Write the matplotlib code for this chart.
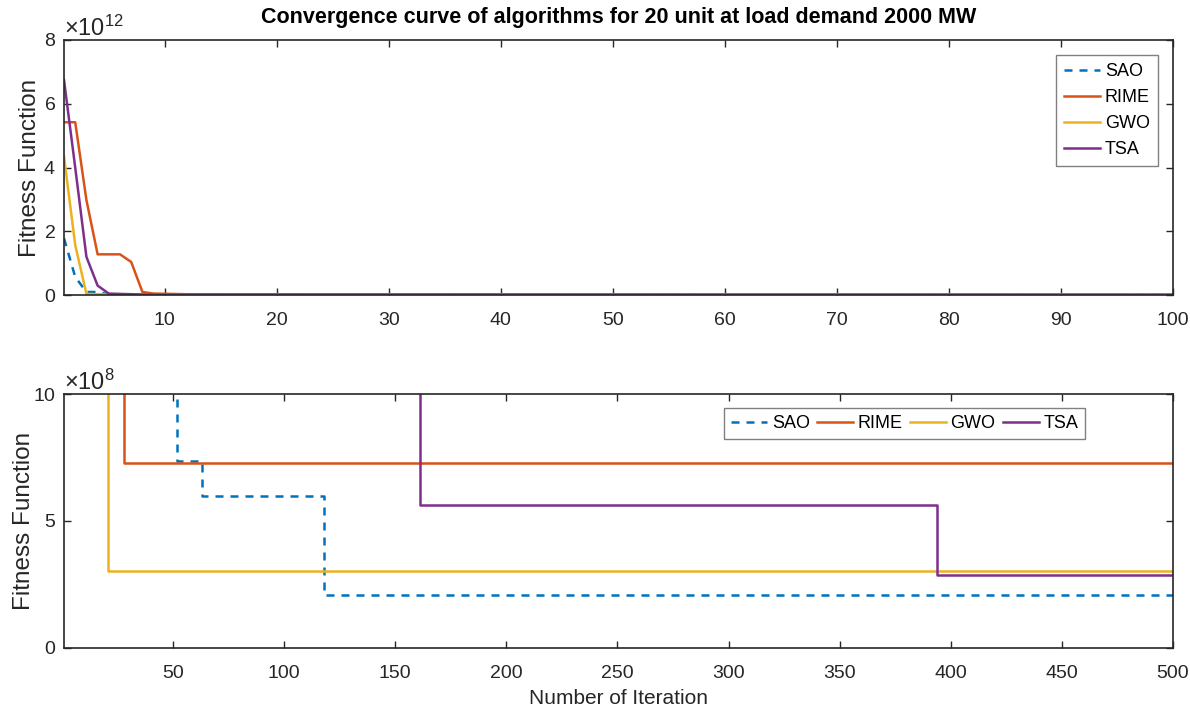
import numpy as np
import matplotlib.pyplot as plt

plt.rcParams['font.family'] = ['Liberation Sans', 'DejaVu Sans']
plt.rcParams['mathtext.fontset'] = 'custom'
plt.rcParams['mathtext.rm'] = 'Liberation Sans'

algos = ['SAO', 'RIME', 'GWO', 'TSA']
colors = ['#0072BD', '#D95319', '#EDB120', '#7E2F8E']

# 100-iteration run (best fitness per iteration, last point holds to the end)
it_top = {
    'SAO':  [1, 2, 3, 4, 5, 6, 100],
    'RIME': [1, 2, 3, 4, 5, 6, 7, 8, 9, 12, 100],
    'GWO':  [1, 2, 3, 4, 5, 100],
    'TSA':  [1, 2, 3, 4, 5, 6, 8, 100],
}
fit_top = {
    'SAO':  [1.78e12, 0.57e12, 0.10e12, 0.10e12, 0.02e12, 0.01e12, 0.005e12],
    'RIME': [5.42e12, 5.42e12, 2.98e12, 1.28e12, 1.28e12, 1.28e12, 1.04e12,
             0.10e12, 0.05e12, 0.03e12, 0.02e12],
    'GWO':  [4.34e12, 1.57e12, 0.04e12, 0.03e12, 0.02e12, 0.01e12],
    'TSA':  [6.74e12, 4.00e12, 1.20e12, 0.30e12, 0.05e12, 0.04e12, 0.02e12, 0.01e12],
}

# 500-iteration run: iterations where the best fitness changes
it_bot = {
    'SAO':  [1, 52, 63, 118, 500],
    'RIME': [1, 28, 500],
    'GWO':  [1, 21, 500],
    'TSA':  [1, 161, 394, 500],
}
fit_bot = {
    'SAO':  [1.6e9, 7.37e8, 5.97e8, 2.09e8, 2.09e8],
    'RIME': [2.0e9, 7.27e8, 7.27e8],
    'GWO':  [2.0e9, 3.03e8, 3.03e8],
    'TSA':  [1.2e9, 5.62e8, 2.87e8, 2.87e8],
}

fig = plt.figure(figsize=(11.9, 7.13), dpi=100)
ax1 = fig.add_axes([0.0538, 0.586, 0.9319, 0.358])
ax2 = fig.add_axes([0.0538, 0.0912, 0.9319, 0.3562])

for name, c in zip(algos, colors):
    ls = (0, (3.2, 2.8)) if name == 'SAO' else '-'
    ax1.plot(it_top[name], fit_top[name], color=c, lw=1.8, ls=ls, label=name)
    ax2.plot(it_bot[name], fit_bot[name], color=c, lw=1.8, ls=ls, label=name,
             drawstyle='steps-post')

ax1.set_xlim(1, 100)
ax1.set_ylim(0, 8e12)
ax1.set_xticks(np.arange(10, 101, 10))
ax1.set_yticks(np.arange(0, 8.1e12, 2e12))
ax1.ticklabel_format(axis='y', style='sci', scilimits=(12, 12), useMathText=True)
ax1.set_ylabel('Fitness Function', fontsize=17.5, color='#262626', labelpad=2)
ax1.set_title('Convergence curve of algorithms for 20 unit at load demand 2000 MW',
              fontsize=15.5, fontweight='bold', pad=12)

ax2.set_xlim(1, 500)
ax2.set_ylim(0, 10e8)
ax2.set_xticks(np.arange(50, 501, 50))
ax2.set_yticks([0, 5e8, 10e8])
ax2.ticklabel_format(axis='y', style='sci', scilimits=(8, 8), useMathText=True)
ax2.set_ylabel('Fitness Function', fontsize=17.5, color='#262626', labelpad=-2)
ax2.set_xlabel('Number of Iteration', fontsize=15, color='#262626', labelpad=5)

for ax in (ax1, ax2):
    ax.tick_params(direction='in', top=True, right=True, length=5, width=1,
                   labelsize=14, colors='#262626', pad=6)
    ax.tick_params(axis='x', pad=12)
    for s in ax.spines.values():
        s.set_color('#262626')
        s.set_linewidth(1.2)
    ax.yaxis.get_offset_text().set_fontsize(17)
    ax.yaxis.get_offset_text().set_color('#262626')

leg1 = ax1.legend(loc='upper right', bbox_to_anchor=(0.9865, 0.941), fontsize=13,
                  handlelength=2.0, handletextpad=0.25, labelspacing=0.5,
                  borderpad=0.45, borderaxespad=0, fancybox=False, framealpha=1)
leg2 = ax2.legend(loc='upper right', bbox_to_anchor=(0.921, 0.945), ncol=4, fontsize=13,
                  handlelength=2.0, handletextpad=0.25, columnspacing=0.4,
                  borderpad=0.4, borderaxespad=0, fancybox=False, framealpha=1)
for leg in (leg1, leg2):
    leg.get_frame().set_edgecolor('#808080')
    leg.get_frame().set_linewidth(1.0)

fig.savefig('out.png', dpi=100)
